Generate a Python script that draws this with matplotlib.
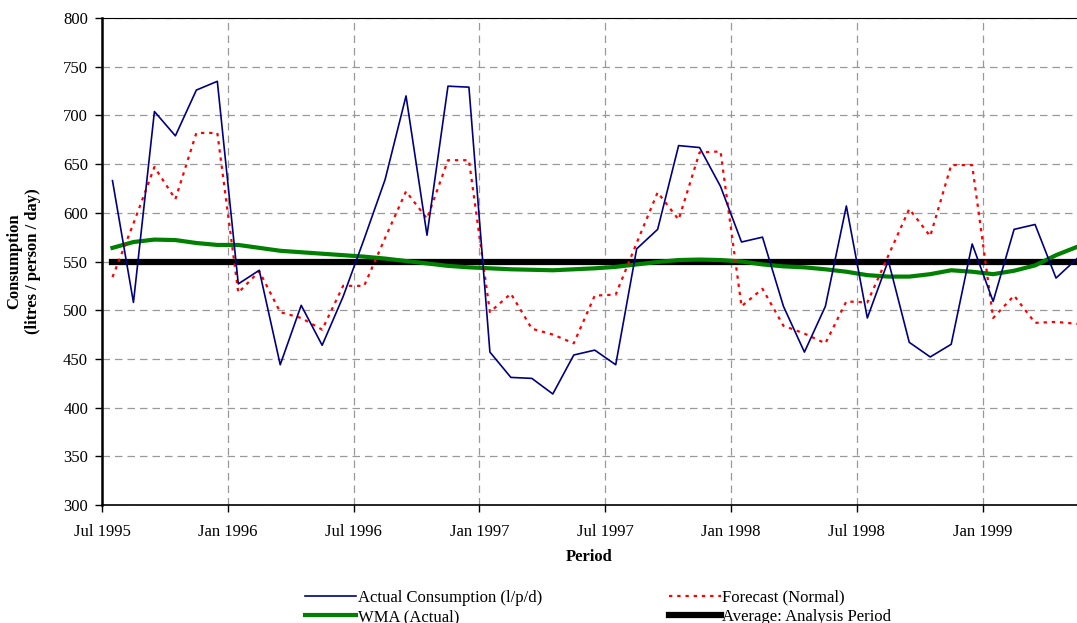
import matplotlib
matplotlib.use("Agg")
import matplotlib.pyplot as plt
import numpy as np

plt.rcParams['font.family'] = ['Liberation Serif', 'DejaVu Serif']
plt.rcParams['font.size'] = 12

# monthly series starting Jul 1995
actual = [633, 508, 704, 679, 726, 735, 527, 541, 444, 505, 464, 514,
          573, 634, 720, 577, 730, 729, 457, 431, 430, 414, 454, 459,
          444, 563, 583, 669, 667, 627, 570, 575, 504, 457, 504, 607,
          492, 551, 467, 452, 465, 568, 509, 583, 588, 533, 553]
forecast = [534, 589, 647, 614, 682, 682, 518, 540, 498, 492, 480, 525,
            525, 574, 622, 594, 654, 654, 498, 517, 481, 475, 466, 515,
            516, 569, 621, 593, 662, 663, 504, 522, 484, 476, 466, 509,
            508, 556, 604, 576, 649, 649, 492, 515, 487, 488, 486]
wma = [564, 570, 572.5, 572, 569, 567, 567, 564, 561, 559.5, 558, 556.5,
       555, 553, 550.5, 548, 545.5, 544, 543, 542, 541.5, 541, 542, 543,
       544.5, 547, 549.5, 551.5, 552, 551.5, 550, 547, 545, 544, 542, 539.5,
       536, 534.5, 534.5, 537, 541, 539.5, 537, 540.5, 546, 556.5, 565]
period_avg = [550] * len(actual)

tick_labels = ['Jul 1995', 'Jan 1996', 'Jul 1996', 'Jan 1997',
               'Jul 1997', 'Jan 1998', 'Jul 1998', 'Jan 1999']

x = np.arange(len(actual)) + 0.5

fig = plt.figure(figsize=(10.77, 6.23), dpi=100)
ax = fig.add_axes([102 / 1077, 1 - 505 / 623, 1 - 102 / 1077, (505 - 18) / 623])

l_avg, = ax.plot(x, period_avg, color='black', lw=4.5,
                 label='Average: Analysis Period', zorder=2)
l_wma, = ax.plot(x, wma, color='#008000', lw=3, label='WMA (Actual)', zorder=3)
l_fc, = ax.plot(x, forecast, color='red', lw=1.6, ls=(0, (1.5, 2.2)),
                label='Forecast (Normal)', zorder=4)
l_act, = ax.plot(x, actual, color='#000080', lw=1.2,
                 label='Actual Consumption (l/p/d)', zorder=5)

ax.set_xlim(0, 46.5)
ax.set_ylim(300, 800)
ax.set_yticks(np.arange(300, 801, 50))
ax.set_xticks(np.arange(0, 6 * len(tick_labels), 6))
ax.set_xticklabels(tick_labels)

ax.grid(True, color='#999999', ls=(0, (6, 4)), lw=0.9)
ax.set_axisbelow(True)

ax.spines['right'].set_visible(False)
ax.spines['left'].set_linewidth(1.8)
ax.spines['bottom'].set_linewidth(1.2)
ax.spines['top'].set_linewidth(0.8)
ax.tick_params(direction='out', length=5, width=1)
ax.tick_params(axis='y', pad=5)
ax.tick_params(axis='x', pad=9)

ax.set_xlabel('Period', fontweight='bold', labelpad=6)
ax.set_ylabel('Consumption\n(litres / person / day)', fontweight='bold', labelpad=16)

handles = [l_act, l_wma, l_fc, l_avg]
fig.legend(handles, [h.get_label() for h in handles],
           ncol=2, loc='upper left', bbox_to_anchor=(298 / 1077, 1 - 583 / 623),
           frameon=False, handlelength=3.1, handletextpad=0.1,
           columnspacing=7.6, labelspacing=0.2, borderaxespad=0)

fig.savefig('out.png', dpi=100)
